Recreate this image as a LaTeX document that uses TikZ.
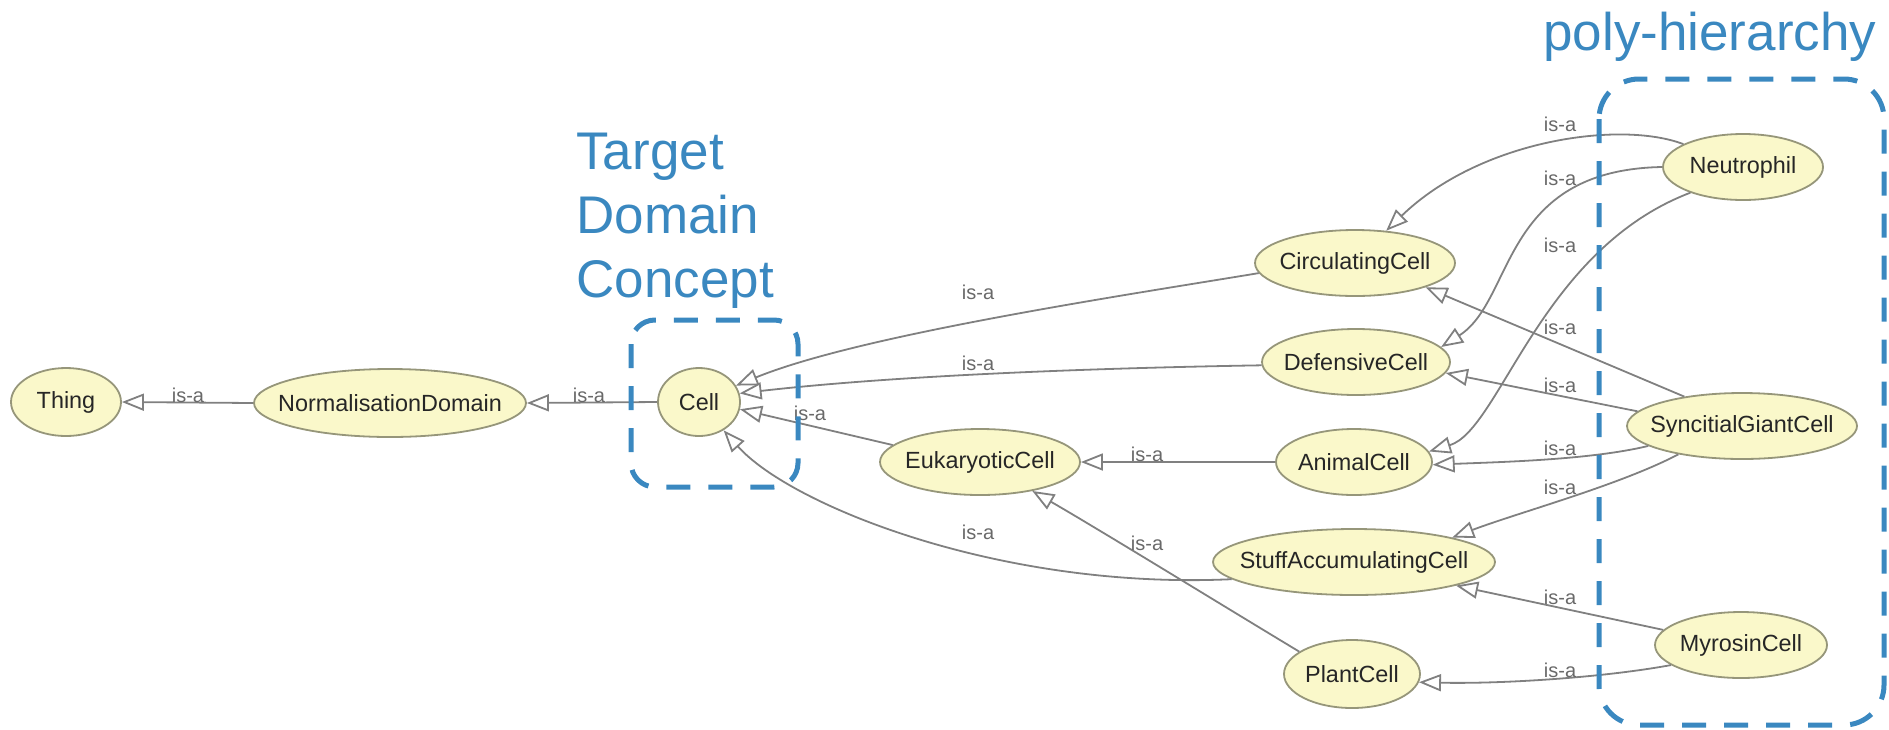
\documentclass[tikz,border=0pt]{standalone}
\usepackage{fontspec}
\setmainfont{Liberation Sans}
\usetikzlibrary{shapes.geometric,arrows.meta}

\definecolor{hint}{RGB}{58,136,192}
\definecolor{nodefill}{RGB}{250,248,202}
\definecolor{nodeline}{RGB}{150,150,122}
\definecolor{edgegray}{RGB}{128,128,128}
\definecolor{labelgray}{RGB}{105,105,105}

% class name centred in an ellipse whose size is set explicitly
\newcommand{\nodetxt}[1]{\makebox[0pt]{#1}}

\begin{document}
\begin{tikzpicture}[x=0.5pt,y=-0.5pt,
  concept/.style={ellipse, draw=nodeline, fill=nodefill, line width=0.9pt,
    inner sep=0pt, font=\fontsize{11.7}{14}\selectfont, text=black!85},
  isa/.style={draw=edgegray, line width=0.9pt,
    -{Triangle[open, length=11pt, width=8.5pt, fill=white]}},
  isalabel/.style={font=\fontsize{10}{12}\selectfont, text=labelgray, inner sep=0pt},
  hintbox/.style={draw=hint, line width=2.5pt, dash pattern=on 12pt off 9pt},
  hinttext/.style={font=\fontsize{26.5}{32}\selectfont, text=hint, inner sep=0pt}]

\useasboundingbox (0,0) rectangle (1889,729);

% classes
\node[concept, minimum width=55pt,  minimum height=34pt] (thing)  at (66,402)   {\nodetxt{Thing}};
\node[concept, minimum width=136pt, minimum height=34pt] (nd)     at (390,403)  {\nodetxt{NormalisationDomain}};
\node[concept, minimum width=41pt,  minimum height=34pt] (cell)   at (699,402)  {\nodetxt{Cell}};
\node[concept, minimum width=100pt, minimum height=33pt] (euk)    at (980,462)  {\nodetxt{EukaryoticCell}};
\node[concept, minimum width=100pt, minimum height=33pt] (circ)   at (1355,263) {\nodetxt{CirculatingCell}};
\node[concept, minimum width=94pt,  minimum height=33pt] (def)    at (1356,362) {\nodetxt{DefensiveCell}};
\node[concept, minimum width=78pt,  minimum height=33pt] (animal) at (1354,462) {\nodetxt{AnimalCell}};
\node[concept, minimum width=141pt, minimum height=33pt] (stuff)  at (1354,562) {\nodetxt{StuffAccumulatingCell}};
\node[concept, minimum width=68pt,  minimum height=34pt] (plant)  at (1352,674) {\nodetxt{PlantCell}};
\node[concept, minimum width=80pt,  minimum height=33pt] (neut)   at (1743,167) {\nodetxt{Neutrophil}};
\node[concept, minimum width=115pt, minimum height=33pt] (sync)   at (1742,426) {\nodetxt{SyncitialGiantCell}};
\node[concept, minimum width=86pt,  minimum height=33pt] (myro)   at (1741,645) {\nodetxt{MyrosinCell}};

% is-a links, child -> parent
\draw[isa] (nd.west) -- (thing.east);
\draw[isa] (cell.west) -- (nd.east);
\draw[isa] (circ.186) .. controls (1120,296) and (860,335) .. (cell.24);
\draw[isa] (def.182) .. controls (1100,368) and (900,375) .. (cell.12);
\draw[isa] (euk.169) -- (cell.-10);
\draw[isa] (animal.west) -- (euk.east);
\draw[isa] (stuff.188) .. controls (1000,590) and (790,505) .. (cell.-49);
\draw[isa] (plant.157) .. controls (1230,610) and (1100,530) .. (euk.-29);
\draw[isa] (neut.159) .. controls (1620,120) and (1480,140) .. (circ.46);
\draw[isa] (neut.west) .. controls (1500,170) and (1515,300) .. (def.10);
\draw[isa] (neut.206) .. controls (1540,250) and (1500,430) .. (animal.8);
\draw[isa] (sync.153) -- (circ.-19);
\draw[isa] (sync.172) -- (def.-7);
\draw[isa] (sync.192) .. controls (1590,460) and (1500,462) .. (animal.-2);
\draw[isa] (sync.204) .. controls (1620,485) and (1520,512) .. (stuff.14);
\draw[isa] (myro.169) -- (stuff.-13);
\draw[isa] (myro.196) .. controls (1600,678) and (1500,684) .. (plant.-7);

% link labels
\node[isalabel] (l1)  at (188,395)  {is-a};
\node[isalabel] (l2)  at (589,395)  {is-a};
\node[isalabel] (l3)  at (978,292)  {is-a};
\node[isalabel] (l4)  at (978,363)  {is-a};
\node[isalabel] (l5)  at (810,413)  {is-a};
\node[isalabel] (l6)  at (1147,454) {is-a};
\node[isalabel] (l7)  at (978,532)  {is-a};
\node[isalabel] (l8)  at (1147,543) {is-a};
\node[isalabel] (l9)  at (1560,124) {is-a};
\node[isalabel] (l10) at (1560,178) {is-a};
\node[isalabel] (l11) at (1560,245) {is-a};
\node[isalabel] (l12) at (1560,327) {is-a};
\node[isalabel] (l13) at (1560,385) {is-a};
\node[isalabel] (l14) at (1560,448) {is-a};
\node[isalabel] (l15) at (1560,487) {is-a};
\node[isalabel] (l16) at (1560,597) {is-a};
\node[isalabel] (l17) at (1560,670) {is-a};

% highlighted groups
\draw[hintbox, rounded corners=12pt] (631,320) rectangle (798,487);
\draw[hintbox, rounded corners=20pt] (1599,79) rectangle (1884,725);

\node[hinttext, anchor=base west] (t1) at (576,169) {Target};
\node[hinttext, anchor=base west] (t2) at (576,233) {Domain};
\node[hinttext, anchor=base west] (t3) at (576,297) {Concept};
\node[hinttext, anchor=base west] (poly) at (1543,50) {poly-hierarchy};
\end{tikzpicture}
\end{document}
